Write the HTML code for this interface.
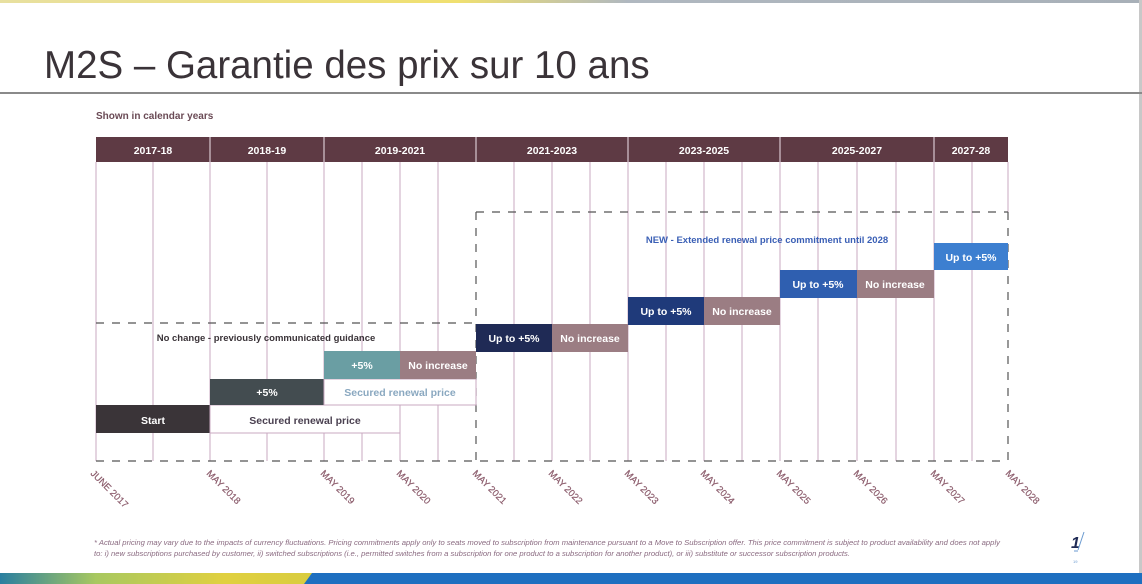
<!DOCTYPE html>
<html><head><meta charset="utf-8"><style>
html,body{margin:0;padding:0;background:#fff;}
body{width:1142px;height:584px;overflow:hidden;position:relative;font-family:"Liberation Sans",sans-serif;}
</style></head><body>
<svg width="1142" height="584" xmlns="http://www.w3.org/2000/svg" style="position:absolute;left:0;top:0">
<defs>
<linearGradient id="tg" x1="0" x2="1"><stop offset="0" stop-color="#e8e0a0"/><stop offset="0.4" stop-color="#f0e070"/><stop offset="0.55" stop-color="#b0b8c0"/><stop offset="1" stop-color="#a8b0b8"/></linearGradient>
<linearGradient id="bg" x1="0" x2="1"><stop offset="0" stop-color="#2a7fa0"/><stop offset="0.3" stop-color="#a8c860"/><stop offset="0.7" stop-color="#e0d040"/><stop offset="1" stop-color="#d8cc40"/></linearGradient>
</defs>
<rect x="0" y="0" width="1142" height="3" fill="url(#tg)"/>
<rect x="1139" y="0" width="3" height="584" fill="#c8c8c8"/>
<text x="44" y="78" font-family="Liberation Sans,DejaVu Sans,sans-serif" font-size="38.5" fill="#3a3338">M2S – Garantie des prix sur 10 ans</text>
<rect x="0" y="92" width="1142" height="2" fill="#8a8a8a"/>
<text x="96" y="119" font-size="10" font-weight="bold" fill="#6a4a55">Shown in calendar years</text>
<rect x="96" y="137" width="912" height="25" fill="#5e3a44"/>
<g stroke="#d8c8d0" stroke-width="1.2">
<line x1="210" y1="137" x2="210" y2="162"/><line x1="324" y1="137" x2="324" y2="162"/><line x1="476" y1="137" x2="476" y2="162"/><line x1="628" y1="137" x2="628" y2="162"/><line x1="780" y1="137" x2="780" y2="162"/><line x1="934" y1="137" x2="934" y2="162"/>
</g>
<g font-size="10.5" font-weight="bold" fill="#fff" text-anchor="middle">
<text x="153" y="154">2017-18</text><text x="267" y="154">2018-19</text><text x="400" y="154">2019-2021</text><text x="552" y="154">2021-2023</text><text x="704" y="154">2023-2025</text><text x="857" y="154">2025-2027</text><text x="971" y="154">2027-28</text>
</g>
<g stroke="#c8a8c0" stroke-width="1">
<line x1="96" y1="162" x2="96" y2="461"/><line x1="153" y1="162" x2="153" y2="461"/><line x1="210" y1="162" x2="210" y2="461"/><line x1="267" y1="162" x2="267" y2="461"/><line x1="324" y1="162" x2="324" y2="461"/><line x1="362" y1="162" x2="362" y2="461"/><line x1="400" y1="162" x2="400" y2="461"/><line x1="438" y1="162" x2="438" y2="461"/>
<line x1="514" y1="162" x2="514" y2="461"/><line x1="552" y1="162" x2="552" y2="461"/><line x1="590" y1="162" x2="590" y2="461"/><line x1="628" y1="162" x2="628" y2="461"/><line x1="666" y1="162" x2="666" y2="461"/><line x1="704" y1="162" x2="704" y2="461"/><line x1="742" y1="162" x2="742" y2="461"/><line x1="780" y1="162" x2="780" y2="461"/><line x1="818" y1="162" x2="818" y2="461"/><line x1="857" y1="162" x2="857" y2="461"/><line x1="896" y1="162" x2="896" y2="461"/><line x1="934" y1="162" x2="934" y2="461"/><line x1="972" y1="162" x2="972" y2="461"/><line x1="1008" y1="162" x2="1008" y2="212"/>
</g>
<g stroke="#555" stroke-width="1.2" stroke-dasharray="8,8" fill="none">
<line x1="96" y1="461" x2="1008" y2="461"/>
<line x1="96" y1="323" x2="476" y2="323"/>
<line x1="476" y1="212" x2="1008" y2="212"/>
<line x1="476" y1="212" x2="476" y2="461"/>
<line x1="1008" y1="212" x2="1008" y2="461"/>
</g>
<rect x="96" y="405" width="114" height="28" fill="#3a3438"/>
<rect x="210" y="405" width="190" height="28" fill="#fff" stroke="#c8a8c0"/>
<rect x="210" y="379" width="114" height="26" fill="#434c50"/>
<rect x="324" y="379" width="152" height="26" fill="#fff" stroke="#c8a8c0"/>
<rect x="324" y="351" width="76" height="28" fill="#6a9ea3"/>
<rect x="400" y="351" width="76" height="28" fill="#9b7d83"/>
<rect x="476" y="324" width="76" height="28" fill="#1f2a55"/>
<rect x="552" y="324" width="76" height="28" fill="#9b7d83"/>
<rect x="628" y="297" width="76" height="28" fill="#1f3a7a"/>
<rect x="704" y="297" width="76" height="28" fill="#9b7d83"/>
<rect x="780" y="270" width="77" height="28" fill="#2f5fb0"/>
<rect x="857" y="270" width="77" height="28" fill="#9b7d83"/>
<rect x="934" y="243" width="74" height="27" fill="#3d7fd0"/>
<g font-size="10.5" font-weight="bold" text-anchor="middle">
<text x="153" y="424" fill="#fff">Start</text>
<text x="305" y="424" fill="#4a4050">Secured renewal price</text>
<text x="267" y="396" fill="#fff">+5%</text>
<text x="400" y="396" fill="#8aa8c0">Secured renewal price</text>
<text x="362" y="369" fill="#fff">+5%</text>
<text x="438" y="369" fill="#fff">No increase</text>
<text x="266" y="341" fill="#3a3338" font-size="9.5">No change - previously communicated guidance</text>
<text x="514" y="342" fill="#fff">Up to +5%</text>
<text x="590" y="342" fill="#fff">No increase</text>
<text x="666" y="315" fill="#fff">Up to +5%</text>
<text x="742" y="315" fill="#fff">No increase</text>
<text x="818" y="288" fill="#fff">Up to +5%</text>
<text x="895" y="288" fill="#fff">No increase</text>
<text x="971" y="261" fill="#fff">Up to +5%</text>
<text x="767" y="243" fill="#3a5fb5" font-size="9.5">NEW - Extended renewal price commitment until 2028</text>
</g>
<g font-size="9.5" fill="#8a5a6a" stroke="#8a5a6a" stroke-width="0.2">
<text transform="translate(90,474) rotate(45)">JUNE 2017</text>
<text transform="translate(206,474) rotate(45)">MAY 2018</text>
<text transform="translate(320,474) rotate(45)">MAY 2019</text>
<text transform="translate(396,474) rotate(45)">MAY 2020</text>
<text transform="translate(472,474) rotate(45)">MAY 2021</text>
<text transform="translate(548,474) rotate(45)">MAY 2022</text>
<text transform="translate(624,474) rotate(45)">MAY 2023</text>
<text transform="translate(700,474) rotate(45)">MAY 2024</text>
<text transform="translate(776,474) rotate(45)">MAY 2025</text>
<text transform="translate(853,474) rotate(45)">MAY 2026</text>
<text transform="translate(930,474) rotate(45)">MAY 2027</text>
<text transform="translate(1005,474) rotate(45)">MAY 2028</text>
</g>
<g font-size="7.3" font-style="italic" fill="#8a6a80">
<text x="94" y="545" textLength="906" lengthAdjust="spacingAndGlyphs">* Actual pricing may vary due to the impacts of currency fluctuations. Pricing commitments apply only to seats moved to subscription from maintenance pursuant to a Move to Subscription offer. This price commitment is subject to product availability and does not apply</text>
<text x="94" y="556" textLength="756" lengthAdjust="spacingAndGlyphs">to: i) new subscriptions purchased by customer, ii) switched subscriptions (i.e., permitted switches from a subscription for one product to a subscription for another product), or iii) substitute or successor subscription products.</text>
</g>
<text x="1071" y="548" font-size="16" font-weight="bold" font-style="italic" fill="#1f2a55">1</text>
<line x1="1078" y1="550" x2="1084" y2="532" stroke="#6a9ad0" stroke-width="1"/>
<line x1="1074" y1="551" x2="1078" y2="551" stroke="#6a9ad0" stroke-width="1"/>
<text x="1073" y="563" font-size="4" fill="#6a9ad0">19</text>
<rect x="0" y="573" width="320" height="11" fill="url(#bg)"/>
<polygon points="312,573 1142,573 1142,584 304,584" fill="#1e6fc0"/>
</svg>
</body></html>
